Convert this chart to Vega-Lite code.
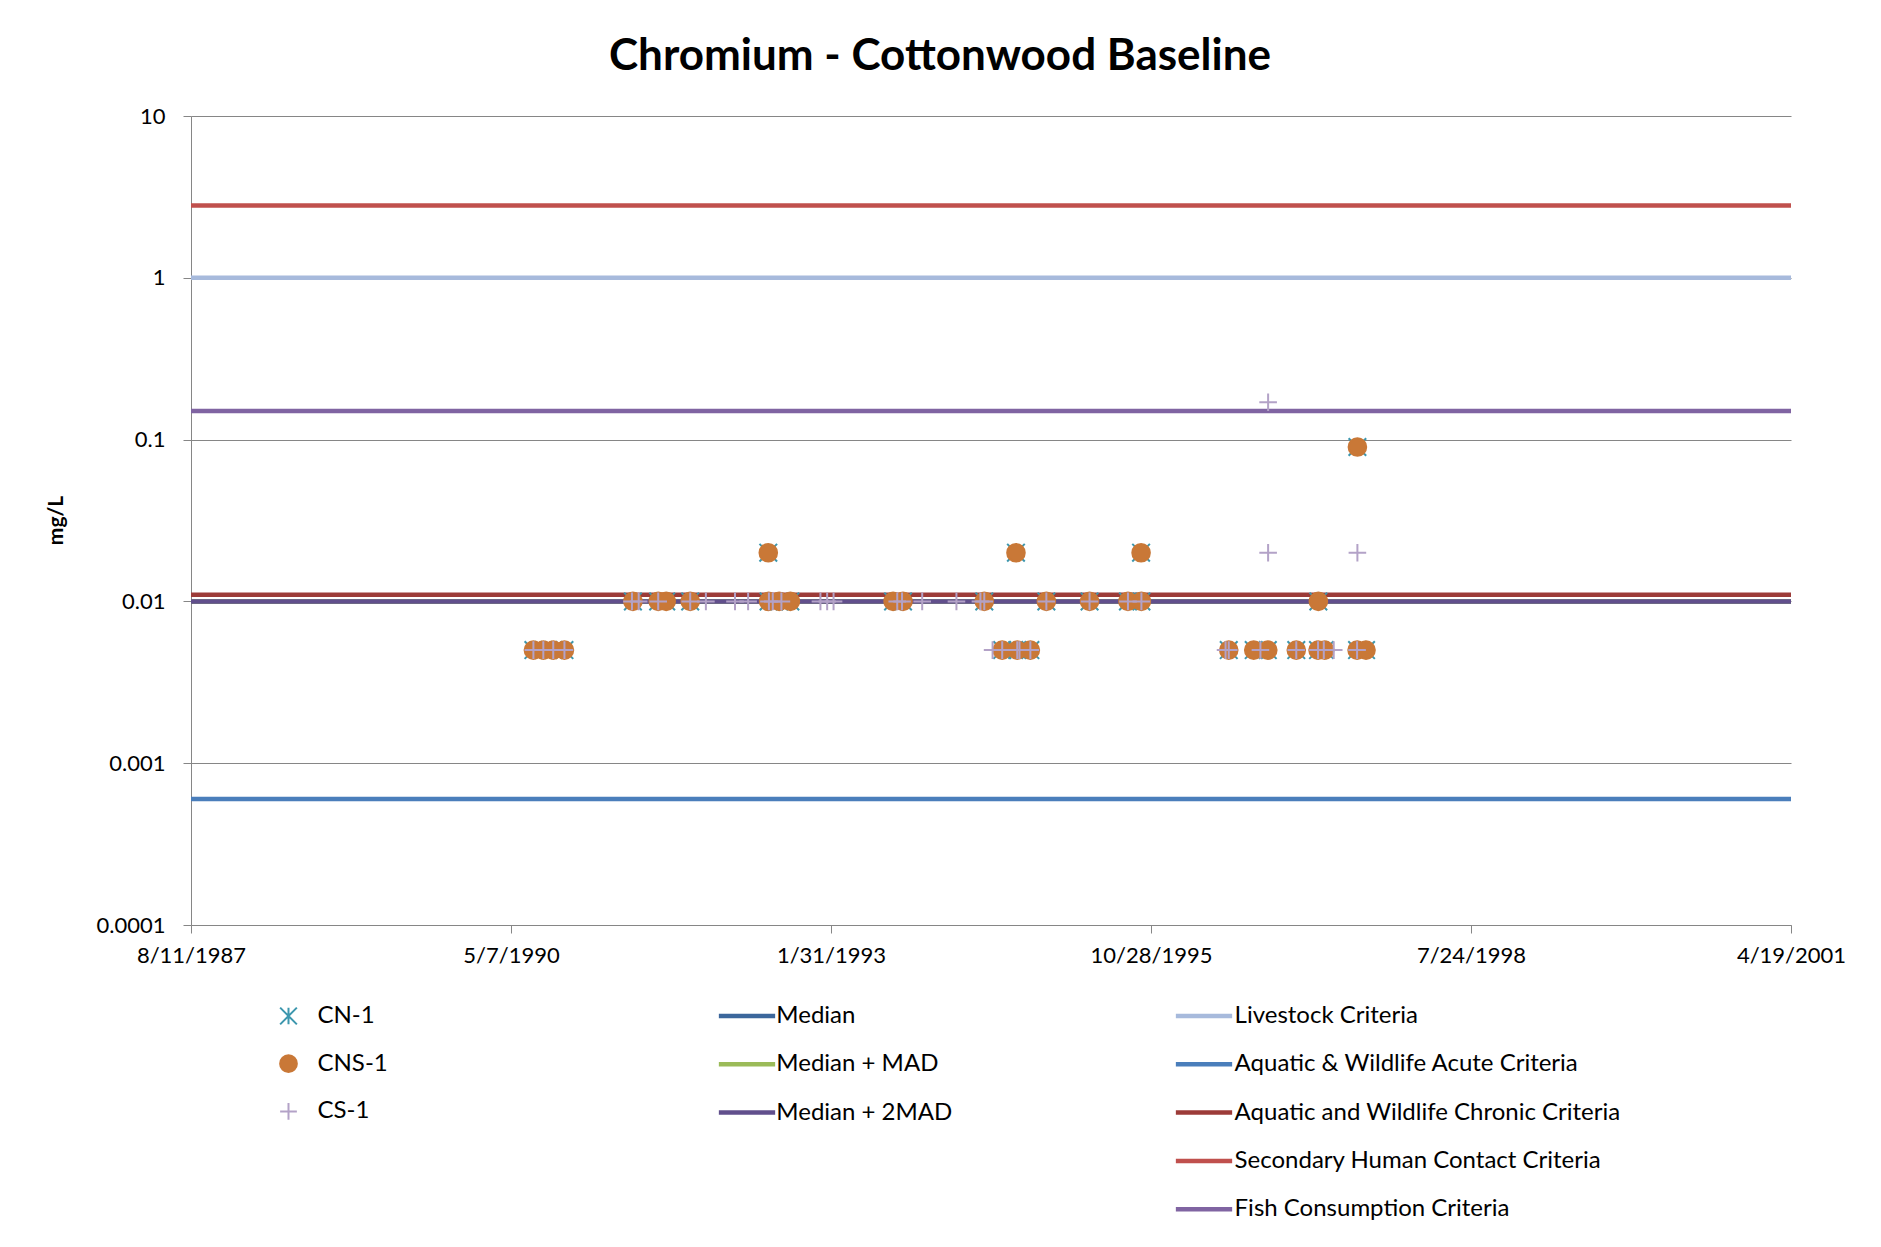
{
  "$schema": "https://vega.github.io/schema/vega-lite/v6.json",
  "width": 1600,
  "height": 809,
  "autosize": "none",
  "padding": {"left": 191, "top": 116, "right": 90, "bottom": 322},
  "background": "white",
  "title": {"text": "Chromium - Cottonwood Baseline", "font": "Lato", "fontSize": 44, "fontWeight": "bold", "color": "#000000", "anchor": "middle", "frame": "group", "dx": -51, "offset": -9, "baseline": "alphabetic"},
  "config": {
    "view": {"stroke": null},
    "font": "Lato",
    "legend": {"padding": 0, "labelFont": "Lato", "labelFontSize": 24, "labelColor": "#000000", "titlePadding": 0, "labelLimit": 0}
  },
  "datasets": {
    "medians": [
      {"series": "Median", "v": 0.01},
      {"series": "Median + MAD", "v": 0.01},
      {"series": "Median + 2MAD", "v": 0.01}
    ],
    "criteria": [
      {"series": "Livestock Criteria", "v": 1},
      {"series": "Aquatic & Wildlife Acute Criteria", "v": 0.0006},
      {"series": "Aquatic and Wildlife Chronic Criteria", "v": 0.011},
      {"series": "Secondary Human Contact Criteria", "v": 2.8},
      {"series": "Fish Consumption Criteria", "v": 0.15}
    ],
    "pts": [
      {"s": "CN-1", "d": "1990/07/16", "v": 0.005},
      {"s": "CN-1", "d": "1990/08/16", "v": 0.005},
      {"s": "CN-1", "d": "1990/09/16", "v": 0.005},
      {"s": "CN-1", "d": "1990/10/21", "v": 0.005},
      {"s": "CN-1", "d": "1991/05/23", "v": 0.01},
      {"s": "CN-1", "d": "1991/08/10", "v": 0.01},
      {"s": "CN-1", "d": "1991/09/04", "v": 0.01},
      {"s": "CN-1", "d": "1991/11/18", "v": 0.01},
      {"s": "CN-1", "d": "1992/07/19", "v": 0.02},
      {"s": "CN-1", "d": "1992/07/20", "v": 0.01},
      {"s": "CN-1", "d": "1992/08/22", "v": 0.01},
      {"s": "CN-1", "d": "1992/09/26", "v": 0.01},
      {"s": "CN-1", "d": "1993/08/13", "v": 0.01},
      {"s": "CN-1", "d": "1993/09/13", "v": 0.01},
      {"s": "CN-1", "d": "1994/05/25", "v": 0.01},
      {"s": "CN-1", "d": "1994/07/20", "v": 0.005},
      {"s": "CN-1", "d": "1994/09/01", "v": 0.02},
      {"s": "CN-1", "d": "1994/09/05", "v": 0.005},
      {"s": "CN-1", "d": "1994/10/16", "v": 0.005},
      {"s": "CN-1", "d": "1994/12/05", "v": 0.01},
      {"s": "CN-1", "d": "1995/04/19", "v": 0.01},
      {"s": "CN-1", "d": "1995/08/17", "v": 0.01},
      {"s": "CN-1", "d": "1995/09/27", "v": 0.02},
      {"s": "CN-1", "d": "1995/09/28", "v": 0.01},
      {"s": "CN-1", "d": "1996/06/27", "v": 0.005},
      {"s": "CN-1", "d": "1996/09/13", "v": 0.005},
      {"s": "CN-1", "d": "1996/10/27", "v": 0.005},
      {"s": "CN-1", "d": "1997/01/24", "v": 0.005},
      {"s": "CN-1", "d": "1997/04/02", "v": 0.005},
      {"s": "CN-1", "d": "1997/04/03", "v": 0.01},
      {"s": "CN-1", "d": "1997/04/23", "v": 0.005},
      {"s": "CN-1", "d": "1997/08/02", "v": 0.005},
      {"s": "CN-1", "d": "1997/08/03", "v": 0.09},
      {"s": "CN-1", "d": "1997/08/30", "v": 0.005},
      {"s": "CNS-1", "d": "1990/07/16", "v": 0.005},
      {"s": "CNS-1", "d": "1990/08/16", "v": 0.005},
      {"s": "CNS-1", "d": "1990/09/16", "v": 0.005},
      {"s": "CNS-1", "d": "1990/10/21", "v": 0.005},
      {"s": "CNS-1", "d": "1991/05/23", "v": 0.01},
      {"s": "CNS-1", "d": "1991/08/10", "v": 0.01},
      {"s": "CNS-1", "d": "1991/09/04", "v": 0.01},
      {"s": "CNS-1", "d": "1991/11/18", "v": 0.01},
      {"s": "CNS-1", "d": "1992/07/19", "v": 0.02},
      {"s": "CNS-1", "d": "1992/07/20", "v": 0.01},
      {"s": "CNS-1", "d": "1992/08/22", "v": 0.01},
      {"s": "CNS-1", "d": "1992/09/26", "v": 0.01},
      {"s": "CNS-1", "d": "1993/08/13", "v": 0.01},
      {"s": "CNS-1", "d": "1993/09/13", "v": 0.01},
      {"s": "CNS-1", "d": "1994/05/25", "v": 0.01},
      {"s": "CNS-1", "d": "1994/07/20", "v": 0.005},
      {"s": "CNS-1", "d": "1994/09/01", "v": 0.02},
      {"s": "CNS-1", "d": "1994/09/05", "v": 0.005},
      {"s": "CNS-1", "d": "1994/10/16", "v": 0.005},
      {"s": "CNS-1", "d": "1994/12/05", "v": 0.01},
      {"s": "CNS-1", "d": "1995/04/19", "v": 0.01},
      {"s": "CNS-1", "d": "1995/08/17", "v": 0.01},
      {"s": "CNS-1", "d": "1995/09/27", "v": 0.02},
      {"s": "CNS-1", "d": "1995/09/28", "v": 0.01},
      {"s": "CNS-1", "d": "1996/06/27", "v": 0.005},
      {"s": "CNS-1", "d": "1996/09/13", "v": 0.005},
      {"s": "CNS-1", "d": "1996/10/27", "v": 0.005},
      {"s": "CNS-1", "d": "1997/01/24", "v": 0.005},
      {"s": "CNS-1", "d": "1997/04/02", "v": 0.005},
      {"s": "CNS-1", "d": "1997/04/03", "v": 0.01},
      {"s": "CNS-1", "d": "1997/04/23", "v": 0.005},
      {"s": "CNS-1", "d": "1997/08/02", "v": 0.005},
      {"s": "CNS-1", "d": "1997/08/03", "v": 0.09},
      {"s": "CNS-1", "d": "1997/08/30", "v": 0.005},
      {"s": "CS-1", "d": "1990/07/16", "v": 0.005},
      {"s": "CS-1", "d": "1990/08/16", "v": 0.005},
      {"s": "CS-1", "d": "1990/09/16", "v": 0.005},
      {"s": "CS-1", "d": "1990/10/21", "v": 0.005},
      {"s": "CS-1", "d": "1991/05/20", "v": 0.01},
      {"s": "CS-1", "d": "1991/06/10", "v": 0.01},
      {"s": "CS-1", "d": "1991/08/10", "v": 0.01},
      {"s": "CS-1", "d": "1991/11/18", "v": 0.01},
      {"s": "CS-1", "d": "1992/01/06", "v": 0.01},
      {"s": "CS-1", "d": "1992/04/06", "v": 0.01},
      {"s": "CS-1", "d": "1992/05/17", "v": 0.01},
      {"s": "CS-1", "d": "1992/07/21", "v": 0.01},
      {"s": "CS-1", "d": "1992/08/02", "v": 0.01},
      {"s": "CS-1", "d": "1992/08/29", "v": 0.01},
      {"s": "CS-1", "d": "1992/12/29", "v": 0.01},
      {"s": "CS-1", "d": "1993/01/19", "v": 0.01},
      {"s": "CS-1", "d": "1993/02/08", "v": 0.01},
      {"s": "CS-1", "d": "1993/08/26", "v": 0.01},
      {"s": "CS-1", "d": "1993/09/10", "v": 0.01},
      {"s": "CS-1", "d": "1993/11/12", "v": 0.01},
      {"s": "CS-1", "d": "1994/02/27", "v": 0.01},
      {"s": "CS-1", "d": "1994/05/13", "v": 0.01},
      {"s": "CS-1", "d": "1994/05/25", "v": 0.01},
      {"s": "CS-1", "d": "1994/06/20", "v": 0.005},
      {"s": "CS-1", "d": "1994/07/20", "v": 0.005},
      {"s": "CS-1", "d": "1994/09/05", "v": 0.005},
      {"s": "CS-1", "d": "1994/09/12", "v": 0.005},
      {"s": "CS-1", "d": "1994/10/16", "v": 0.005},
      {"s": "CS-1", "d": "1994/12/05", "v": 0.01},
      {"s": "CS-1", "d": "1995/04/19", "v": 0.01},
      {"s": "CS-1", "d": "1995/08/17", "v": 0.01},
      {"s": "CS-1", "d": "1995/09/28", "v": 0.01},
      {"s": "CS-1", "d": "1996/06/17", "v": 0.005},
      {"s": "CS-1", "d": "1996/06/27", "v": 0.005},
      {"s": "CS-1", "d": "1996/10/04", "v": 0.005},
      {"s": "CS-1", "d": "1996/10/28", "v": 0.17},
      {"s": "CS-1", "d": "1996/10/28", "v": 0.02},
      {"s": "CS-1", "d": "1997/01/24", "v": 0.005},
      {"s": "CS-1", "d": "1997/04/02", "v": 0.005},
      {"s": "CS-1", "d": "1997/04/20", "v": 0.005},
      {"s": "CS-1", "d": "1997/05/21", "v": 0.005},
      {"s": "CS-1", "d": "1997/08/02", "v": 0.005},
      {"s": "CS-1", "d": "1997/08/03", "v": 0.02}
    ]
  },
  "layer": [
    {
      "data": {"name": "medians"},
      "mark": {"type": "rule", "strokeWidth": 4.5},
      "encoding": {
        "y": {
          "field": "v", "type": "quantitative",
          "scale": {"type": "log", "domain": [0.0001, 10], "nice": false},
          "axis": {
            "title": "mg/L", "values": [0.0001, 0.001, 0.01, 0.1, 1, 10], "format": "~g",
            "grid": true, "gridColor": "#868686", "gridWidth": 1,
            "domainColor": "#868686", "domainWidth": 1, "tickColor": "#868686", "tickSize": 8,
            "labelPadding": 18, "labelFont": "Lato", "labelFontSize": 22, "labelColor": "#000000",
            "titleFont": "Lato", "titleFontSize": 21, "titleFontWeight": "bold", "titleColor": "#000000",
            "titleX": -135, "titleY": 404, "titleAngle": -90, "titleAlign": "center", "titleBaseline": "middle"
          }
        },
        "color": {
          "field": "series", "type": "nominal", "sort": null,
          "scale": {"domain": ["Median", "Median + MAD", "Median + 2MAD"], "range": ["#3c679c", "#9bbb59", "#614f8c"]},
          "legend": {"title": null, "orient": "none", "legendX": 544, "legendY": 888, "symbolType": "M-3.25,0L3.25,0", "symbolSize": 300, "symbolStrokeWidth": 4.5, "labelOffset": 17.3, "rowPadding": 24.3, "labelFontSize": 24, "labelLimit": 0}
        }
      }
    },
    {
      "data": {"name": "criteria"},
      "mark": {"type": "rule", "strokeWidth": 4.5},
      "encoding": {
        "y": {"field": "v", "type": "quantitative", "scale": {"type": "log", "domain": [0.0001, 10], "nice": false}},
        "color": {
          "field": "series", "type": "nominal", "sort": null,
          "scale": {"domain": ["Livestock Criteria", "Aquatic & Wildlife Acute Criteria", "Aquatic and Wildlife Chronic Criteria", "Secondary Human Contact Criteria", "Fish Consumption Criteria"], "range": ["#a7badc", "#4a7ebb", "#9c3b38", "#c0504d", "#8064a2"]},
          "legend": {"title": null, "orient": "none", "legendX": 1001, "legendY": 888, "symbolType": "M-3.25,0L3.25,0", "symbolSize": 300, "symbolStrokeWidth": 4.5, "labelOffset": 18.6, "rowPadding": 24.3, "labelFontSize": 24, "labelLimit": 0}
        }
      }
    },
    {
      "data": {"name": "pts"},
      "mark": {"type": "point", "strokeWidth": 2, "opacity": 1},
      "encoding": {
        "x": {
          "field": "d", "type": "temporal",
          "scale": {"domain": [{"year": 1987, "month": 8, "date": 11}, {"year": 2001, "month": 4, "date": 19}], "nice": false},
          "axis": {
            "title": null,
            "values": [{"year": 1987, "month": 8, "date": 11}, {"year": 1990, "month": 5, "date": 7}, {"year": 1993, "month": 1, "date": 31}, {"year": 1995, "month": 10, "date": 28}, {"year": 1998, "month": 7, "date": 24}, {"year": 2001, "month": 4, "date": 19}],
            "format": "%-m/%-d/%Y", "grid": false, "domainColor": "#868686", "domainWidth": 1,
            "tickColor": "#868686", "tickSize": 8, "labelPadding": 12, "labelFont": "Lato", "labelFontSize": 22,
            "labelColor": "#000000", "labelFlush": false, "labelOverlap": false
          }
        },
        "y": {"field": "v", "type": "quantitative", "scale": {"type": "log", "domain": [0.0001, 10], "nice": false}},
        "shape": {
          "field": "s", "type": "nominal",
          "scale": {"domain": ["CN-1", "CNS-1", "CS-1"], "range": ["M-1,-1L1,1M1,-1L-1,1M0,-1L0,1", "circle", "M-1,0L1,0M0,-1L0,1"]},
          "legend": {"title": null, "orient": "none", "legendX": 85.5, "legendY": 888, "symbolSize": 280, "symbolStrokeWidth": 2, "labelOffset": 17, "rowPadding": 21.7, "labelFontSize": 24, "labelLimit": 0}
        },
        "fill": {
          "field": "s", "type": "nominal",
          "scale": {"domain": ["CN-1", "CNS-1", "CS-1"], "range": ["transparent", "#c97837", "transparent"]},
          "legend": {"title": null, "orient": "none", "legendX": 85.5, "legendY": 888, "symbolSize": 280, "symbolStrokeWidth": 2, "labelOffset": 17, "rowPadding": 21.7, "labelFontSize": 24, "labelLimit": 0}
        },
        "stroke": {
          "field": "s", "type": "nominal",
          "scale": {"domain": ["CN-1", "CNS-1", "CS-1"], "range": ["#3d97ae", "#c97837", "#b3a2c7"]},
          "legend": {"title": null, "orient": "none", "legendX": 85.5, "legendY": 888, "symbolSize": 280, "symbolStrokeWidth": 2, "labelOffset": 17, "rowPadding": 21.7, "labelFontSize": 24, "labelLimit": 0}
        },
        "size": {"value": 310}
      }
    }
  ],
  "resolve": {"scale": {"color": "independent"}}
}
